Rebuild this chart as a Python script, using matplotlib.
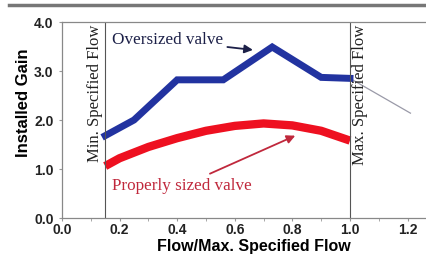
import numpy as np
import matplotlib
matplotlib.use("Agg")
from matplotlib import pyplot as plt
from matplotlib.lines import Line2D

# oversized valve gain
over_x = [0.15, 0.25, 0.40, 0.56, 0.73, 0.90, 1.00]
over_y = [1.68, 2.00, 2.82, 2.82, 3.49, 2.87, 2.85]
# thin grey tail beyond max flow
tail_x = [1.00, 1.21]
tail_y = [2.85, 2.14]
# properly sized valve gain
prop_x = [0.15, 0.20, 0.30, 0.40, 0.50, 0.60, 0.70, 0.80, 0.90, 1.00]
prop_y = [1.06, 1.22, 1.45, 1.63, 1.78, 1.88, 1.93, 1.89, 1.78, 1.58]

xticks = [0.0, 0.2, 0.4, 0.6, 0.8, 1.0, 1.2]
yticks = [0.0, 1.0, 2.0, 3.0, 4.0]
min_flow = 0.15
max_flow = 1.0

plt.rcParams['font.family'] = ['Liberation Sans', 'DejaVu Sans']
fig = plt.figure(figsize=(4.26, 2.56), dpi=100)
ax = fig.add_axes([0.1455, 0.1484, 0.8545, 0.7656])

ax.plot(tail_x, tail_y, color="#9a9aa8", lw=0.9)
ax.plot(over_x, over_y, color="#2233a0", lw=5, solid_joinstyle="miter")
ax.plot(prop_x, prop_y, color="#ee1020", lw=6, solid_capstyle="butt")

ax.axvline(min_flow, color="#555555", lw=0.8)
ax.axvline(max_flow, color="#555555", lw=0.8)

serif = "Liberation Serif"
ax.text(min_flow - 0.008, 3.94, "Min. Specified Flow", rotation=90, ha="right", va="top",
        fontsize=12, family=serif, color="#222222")
ax.text(max_flow + 0.008, 3.94, "Max. Specified Flow", rotation=90, ha="left", va="top",
        fontsize=12, family=serif, color="#222222")

ax.annotate("Oversized valve", xy=(0.663, 3.43), xytext=(0.174, 3.63),
            fontsize=12.3, family=serif, color="#1c2048", va="center",
            arrowprops=dict(arrowstyle="-|>", color="#1c2048", lw=1.3,
                            shrinkA=1, shrinkB=0))
ax.annotate("Properly sized valve", xy=(0.81, 1.68), xytext=(0.174, 0.65),
            fontsize=12.3, family=serif, color="#c0283c", va="center",
            arrowprops=dict(arrowstyle="-|>", color="#c0283c", lw=1.3,
                            shrinkA=3, shrinkB=0))

ax.set_xlim(0, 1.264)
ax.set_ylim(0, 4.0)
ax.set_xticks(xticks)
ax.set_yticks(yticks)
ax.set_xticks(np.arange(0.1, 1.25, 0.2), minor=True)
ax.set_xticklabels(["%.1f" % v for v in xticks], fontweight="bold", fontsize=10, color="#222222")
ax.set_yticklabels(["%.1f" % v for v in yticks], fontweight="bold", fontsize=10, color="#222222")
ax.tick_params(axis="both", which="both", length=2, color="#999999", pad=4)
ax.tick_params(axis="x", pad=1.5)
ax.set_xlabel("Flow/Max. Specified Flow", fontweight="bold", fontsize=11.5, va="top")
ax.set_ylabel("Installed Gain", fontweight="bold", fontsize=12, va="center")
ax.xaxis.set_label_coords(0.527, -0.106)
ax.yaxis.set_label_coords(-0.107, 0.587)
for side in ["left", "bottom", "top"]:
    ax.spines[side].set_color("#888888")
    ax.spines[side].set_linewidth(0.9)
ax.spines["right"].set_visible(False)

# grey rule across the top of the slide
fig.add_artist(Line2D([0.02, 1.0], [0.98, 0.98], color="#777777", lw=2.5))

fig.savefig("out.png", dpi=100)
